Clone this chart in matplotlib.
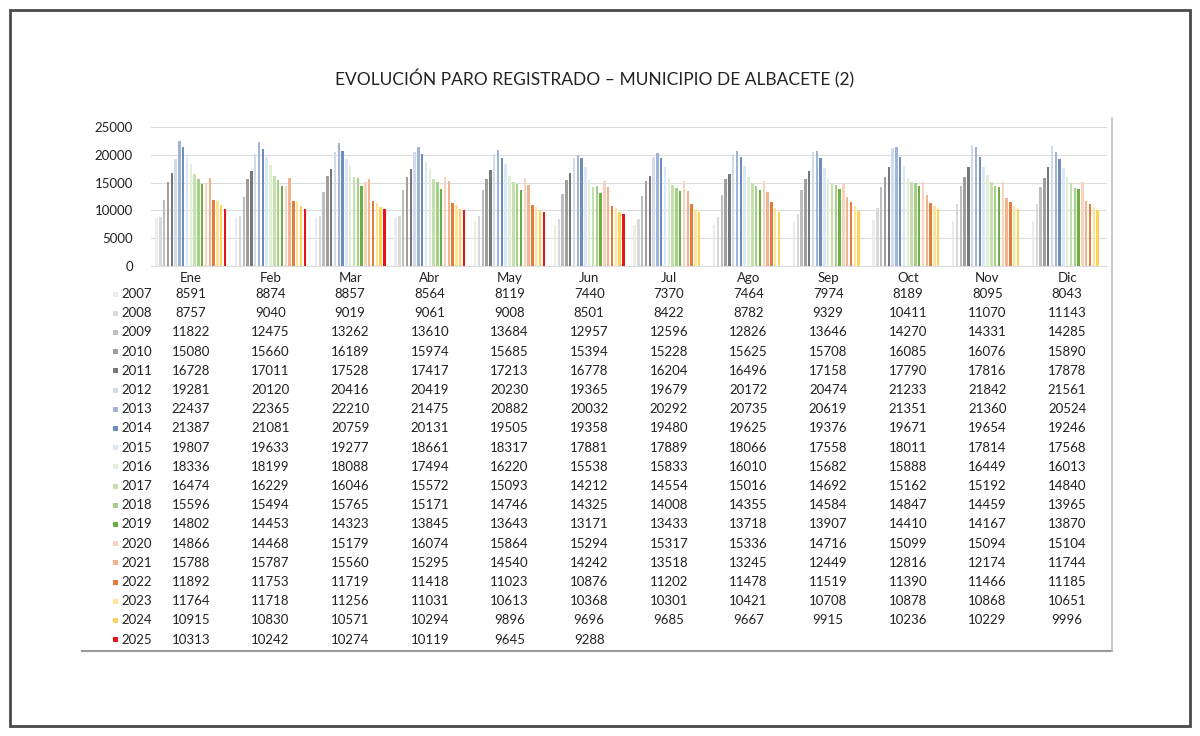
import matplotlib
matplotlib.use("Agg")
import matplotlib.pyplot as plt
from matplotlib.transforms import blended_transform_factory
from matplotlib.patches import Rectangle
from matplotlib.lines import Line2D

months = ["Ene", "Feb", "Mar", "Abr", "May", "Jun", "Jul", "Ago", "Sep", "Oct", "Nov", "Dic"]
years = [str(y) for y in range(2007, 2026)]

v2007 = [8591, 8874, 8857, 8564, 8119, 7440, 7370, 7464, 7974, 8189, 8095, 8043]
v2008 = [8757, 9040, 9019, 9061, 9008, 8501, 8422, 8782, 9329, 10411, 11070, 11143]
v2009 = [11822, 12475, 13262, 13610, 13684, 12957, 12596, 12826, 13646, 14270, 14331, 14285]
v2010 = [15080, 15660, 16189, 15974, 15685, 15394, 15228, 15625, 15708, 16085, 16076, 15890]
v2011 = [16728, 17011, 17528, 17417, 17213, 16778, 16204, 16496, 17158, 17790, 17816, 17878]
v2012 = [19281, 20120, 20416, 20419, 20230, 19365, 19679, 20172, 20474, 21233, 21842, 21561]
v2013 = [22437, 22365, 22210, 21475, 20882, 20032, 20292, 20735, 20619, 21351, 21360, 20524]
v2014 = [21387, 21081, 20759, 20131, 19505, 19358, 19480, 19625, 19376, 19671, 19654, 19246]
v2015 = [19807, 19633, 19277, 18661, 18317, 17881, 17889, 18066, 17558, 18011, 17814, 17568]
v2016 = [18336, 18199, 18088, 17494, 16220, 15538, 15833, 16010, 15682, 15888, 16449, 16013]
v2017 = [16474, 16229, 16046, 15572, 15093, 14212, 14554, 15016, 14692, 15162, 15192, 14840]
v2018 = [15596, 15494, 15765, 15171, 14746, 14325, 14008, 14355, 14584, 14847, 14459, 13965]
v2019 = [14802, 14453, 14323, 13845, 13643, 13171, 13433, 13718, 13907, 14410, 14167, 13870]
v2020 = [14866, 14468, 15179, 16074, 15864, 15294, 15317, 15336, 14716, 15099, 15094, 15104]
v2021 = [15788, 15787, 15560, 15295, 14540, 14242, 13518, 13245, 12449, 12816, 12174, 11744]
v2022 = [11892, 11753, 11719, 11418, 11023, 10876, 11202, 11478, 11519, 11390, 11466, 11185]
v2023 = [11764, 11718, 11256, 11031, 10613, 10368, 10301, 10421, 10708, 10878, 10868, 10651]
v2024 = [10915, 10830, 10571, 10294, 9896, 9696, 9685, 9667, 9915, 10236, 10229, 9996]
v2025 = [10313, 10242, 10274, 10119, 9645, 9288]

series = [v2007, v2008, v2009, v2010, v2011, v2012, v2013, v2014, v2015, v2016,
          v2017, v2018, v2019, v2020, v2021, v2022, v2023, v2024, v2025]

colors = ["#ececec", "#d9d9d9", "#bdbdbd", "#9e9e9e", "#777777",
          "#cfdcee", "#9fb4d6", "#6d8dbf", "#dde8f6",
          "#e0efd6", "#c3e0ae", "#a4d187", "#6cb043",
          "#f8d3bd", "#f2b48e", "#e27d3f",
          "#ffe49a", "#ffd35a", "#e8141a"]

title = "EVOLUCIÓN PARO REGISTRADO – MUNICIPIO DE ALBACETE (2)"

W, H = 1200, 736
fig = plt.figure(figsize=(W / 100, H / 100), dpi=100)
FONT = ["Lato", "DejaVu Sans"]

def fx(px):
    return px / W

def fy(py):
    return 1 - py / H

# outer frame
fig.patches.append(Rectangle((fx(10), fy(726)), fx(1180), (716) / H, transform=fig.transFigure,
                             fill=False, edgecolor="#4a4a4a", linewidth=2.0))

# title
fig.text(fx(595), fy(79), title, ha="center", va="center", fontsize=12.5,
         color="#222222", family=FONT)

ax_l, ax_r, ax_t, ax_b = 151, 1107, 127, 266
ax = fig.add_axes([fx(ax_l), fy(ax_b), fx(ax_r - ax_l), (ax_b - ax_t) / H])

n = len(series)
slot = 0.0478
bw = 0.030
for j, (vals, c) in enumerate(zip(series, colors)):
    xs = [i + (j - (n - 1) / 2) * slot for i in range(len(vals))]
    ax.bar(xs, vals, width=bw, color=c, zorder=3, linewidth=0)

ax.set_xlim(-0.5, len(months) - 0.5)
ax.set_ylim(0, 25000)
ax.set_yticks([0, 5000, 10000, 15000, 20000, 25000])
ax.set_yticklabels(["0", "5000", "10000", "15000", "20000", "25000"], family=FONT,
                   fontsize=9.5, color="#222222")
ax.set_xticks(range(len(months)))
ax.set_xticklabels(months, family=FONT, fontsize=9.5, color="#222222")
ax.tick_params(axis="y", length=0, pad=13)
ax.tick_params(axis="x", length=0, pad=4)
ax.grid(axis="y", color="#dcdcdc", linewidth=0.8, zorder=0)
for s in ["left", "right", "top"]:
    ax.spines[s].set_visible(False)
ax.spines["bottom"].set_color("#dcdcdc")
ax.spines["bottom"].set_linewidth(0.8)
ax.set_facecolor("none")

# data table
trans = blended_transform_factory(ax.transData, fig.transFigure)
row0, drow = 294, 19.2
for j, (yr, vals, c) in enumerate(zip(years, series, colors)):
    py = row0 + j * drow
    fig.patches.append(Rectangle((fx(113), fy(py + 2.5)), fx(5), 5 / H, transform=fig.transFigure,
                                 facecolor=c, edgecolor="none"))
    fig.text(fx(121), fy(py), yr, ha="left", va="center", fontsize=9.5, color="#222222", family=FONT)
    for i, v in enumerate(vals):
        ax.text(i, fy(py), str(v), transform=trans, ha="center", va="center", fontsize=9.5,
                color="#222222", family=FONT, clip_on=False)

# table frame lines
fig.lines.append(Line2D([fx(82), fx(1112)], [fy(651), fy(651)], transform=fig.transFigure,
                        color="#9a9a9a", linewidth=1.5))
fig.lines.append(Line2D([fx(1112), fx(1112)], [fy(118), fy(651)], transform=fig.transFigure,
                        color="#bdbdbd", linewidth=1.2))

fig.savefig("out.png", dpi=100, facecolor="white")
